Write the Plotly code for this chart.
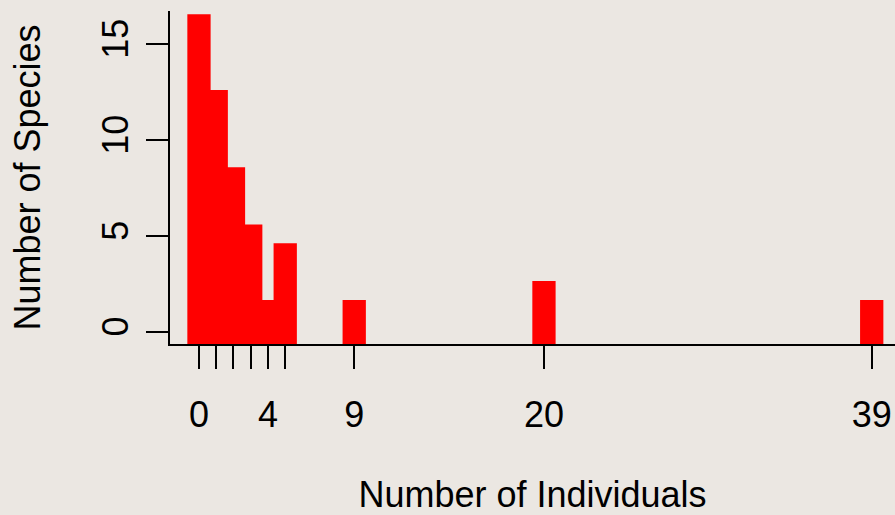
import plotly.graph_objects as go

# Data
individuals = [0, 1, 2, 3, 4, 5, 9, 20, 39]
species_tops = [16.55, 12.6, 8.58, 5.6, 1.67, 4.62, 1.67, 2.66, 1.67]
x_tick_vals = [0, 1, 2, 3, 4, 5, 9, 20, 39]
x_tick_text = ["0", "", "", "", "4", "", "9", "20", "39"]
y_tick_vals = [0, 5, 10, 15]

Y_MIN, Y_MAX = -0.625, 16.72
X_MIN, X_MAX = -1.68, 40.35
base = Y_MIN

fig = go.Figure(
    go.Bar(
        x=individuals,
        y=[t - base for t in species_tops],
        base=base,
        width=1.35,
        marker=dict(color="#FF0000", line=dict(width=0)),
        hoverinfo="skip",
    )
)

font_family = "Liberation Sans, Arial, sans-serif"
fig.update_layout(
    width=895,
    height=515,
    margin=dict(l=170, r=0, t=11, b=171),
    paper_bgcolor="#EBE7E2",
    plot_bgcolor="#EBE7E2",
    barmode="overlay",
    showlegend=False,
    font=dict(family=font_family, size=36, color="black"),
)
fig.update_xaxes(
    range=[X_MIN, X_MAX],
    tickmode="array",
    tickvals=x_tick_vals,
    ticktext=x_tick_text,
    ticks="outside",
    ticklen=23,
    tickwidth=2,
    tickcolor="black",
    showline=True,
    linecolor="black",
    linewidth=2,
    showgrid=False,
    zeroline=False,
    ticklabelstandoff=15,
    tickfont=dict(size=36),
    title=dict(text="Number of Individuals", font=dict(size=36), standoff=58),
    automargin=False,
)
fig.update_yaxes(
    range=[Y_MIN, Y_MAX],
    tickmode="array",
    tickvals=y_tick_vals,
    ticks="outside",
    ticklen=22,
    tickwidth=2,
    tickcolor="black",
    showline=True,
    linecolor="black",
    linewidth=2,
    showgrid=False,
    zeroline=False,
    tickangle=-90,
    ticklabelstandoff=4,
    tickfont=dict(size=36),
    title=dict(text="Number of Species", font=dict(size=36), standoff=43),
    automargin=False,
)

fig.write_html(
    "out.html",
    config={"displayModeBar": False},
    post_script="document.body.style.margin='0';document.body.style.overflow='hidden';",
)
